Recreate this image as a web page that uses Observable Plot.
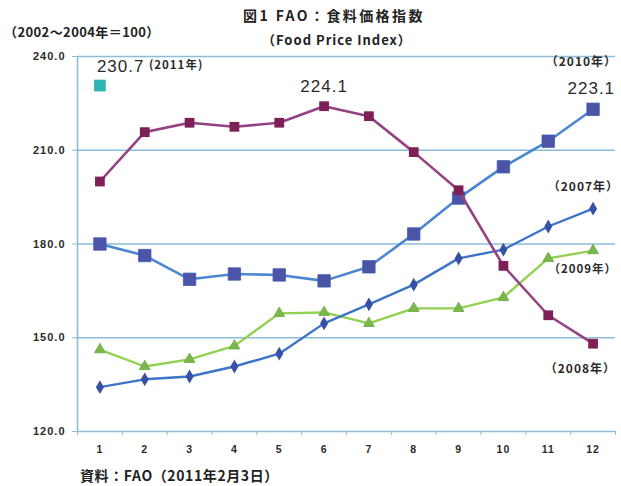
<!DOCTYPE html>
<html>
<head>
<meta charset="utf-8">
<script src="https://cdn.jsdelivr.net/npm/d3@7"></script>
<script src="https://cdn.jsdelivr.net/npm/@observablehq/plot@0.6"></script>
<style>
  body { margin: 0; background: #fff; }
  #wrap { position: relative; width: 621px; height: 486px; overflow: hidden; background: #fff;
          font-family: "Noto Sans CJK JP", "Liberation Sans", sans-serif; color: #222; }
  #chart { position: absolute; left: 0; top: 0; }
  .lbl { position: absolute; white-space: nowrap; font-weight: bold; }
  #title { left: 243px; top: 5px; font-size: 14px; letter-spacing: 2.4px; }
  #subtitle { left: 262px; top: 30px; font-size: 13px; letter-spacing: 1px; }
  #unit { left: 4px; top: 22px; font-size: 13px; letter-spacing: 0.4px; }
  #source { left: 80px; top: 465px; font-size: 14px; letter-spacing: 0.6px; }
</style>
</head>
<body>
<div id="wrap">
  <div id="chart"></div>
  <div class="lbl" id="title">図1 FAO：食料価格指数</div>
  <div class="lbl" id="subtitle">（Food Price Index）</div>
  <div class="lbl" id="unit">（2002～2004年＝100）</div>
  <div class="lbl" id="source">資料：FAO（2011年2月3日）</div>
</div>
<script>
// FAO Food Price Index by month (2002-2004 = 100)
const months = [1, 2, 3, 4, 5, 6, 7, 8, 9, 10, 11, 12];
const yTicks = [120, 150, 180, 210, 240];

const idx2007 = [134.2, 136.7, 137.6, 140.8, 144.9, 154.6, 160.7, 167.0, 175.4, 178.2, 185.6, 191.3];
const idx2008 = [200.0, 215.8, 218.8, 217.5, 218.8, 224.1, 220.9, 209.4, 197.2, 173.0, 157.2, 148.1];
const idx2009 = [146.2, 140.8, 143.1, 147.4, 157.8, 158.1, 154.6, 159.4, 159.4, 162.9, 175.4, 177.9];
const idx2010 = [180.0, 176.3, 168.7, 170.4, 170.1, 168.2, 172.7, 183.2, 194.7, 204.7, 212.9, 223.1];
const idx2011 = [230.7];

const seriesNames = ["2007年", "2008年", "2009年", "2010年", "2011年"];

const rows = (vals) => vals.map((v, i) => ({month: months[i], value: v}));
const s2007 = rows(idx2007), s2008 = rows(idx2008), s2009 = rows(idx2009), s2010 = rows(idx2010), s2011 = rows(idx2011);

// category boundaries for the small ticks between months
const bounds = [months[0] - 0.5, ...months.map(m => m + 0.5)];

const gridColor = "#8dbdd6";
const ink = "#2a2a2a";
const jp = "Noto Sans CJK JP";
const num = "Liberation Sans";
const last = months.length - 1;
const peak2008 = s2008.reduce((a, b) => (b.value > a.value ? b : a));

const chart = Plot.plot({
  width: 621,
  height: 462,
  marginTop: 56,
  marginBottom: 31,
  marginLeft: 77,
  marginRight: 6,
  style: {background: "transparent", overflow: "visible", letterSpacing: "1px"},
  x: {domain: [bounds[0], bounds[bounds.length - 1]]},
  y: {domain: [yTicks[0], yTicks[yTicks.length - 1]]},
  marks: [
    Plot.ruleY(yTicks, {stroke: gridColor, strokeWidth: 1.6}),
    Plot.ruleX([bounds[0]], {stroke: gridColor, strokeWidth: 1.6}),
    Plot.axisY({ticks: yTicks, tickFormat: () => "", tickSize: 5, stroke: gridColor, label: null}),
    Plot.text(yTicks, {x: bounds[0], y: d => d, text: d => d.toFixed(1), textAnchor: "end", dx: -12,
                       fontSize: 11, fontWeight: "bold", fill: ink, fontFamily: num}),
    Plot.text(months, {x: d => d, y: yTicks[0], text: d => String(d), dy: 18,
                       fontSize: 10.5, fontWeight: "bold", fill: ink, fontFamily: num}),
    Plot.axisX({ticks: bounds, tickSize: 4, tickFormat: () => "", stroke: gridColor, label: null}),

    // 2009
    Plot.line(s2009, {x: "month", y: "value", stroke: "#92d050", strokeWidth: 2.4}),
    Plot.dot(s2009, {x: "month", y: "value", symbol: "triangle", r: 4, fill: "#7bb84c", stroke: "#6aa83f", strokeWidth: 0.8}),
    // 2007
    Plot.line(s2007, {x: "month", y: "value", stroke: "#3d74c8", strokeWidth: 2.4}),
    Plot.dot(s2007, {x: "month", y: "value", symbol: "diamond", r: 4.2, fill: "#3550a6"}),
    // 2010
    Plot.line(s2010, {x: "month", y: "value", stroke: "#4a87d2", strokeWidth: 2.6}),
    Plot.dot(s2010, {x: "month", y: "value", symbol: "square", r: 7, fill: "#4b54a6", stroke: "#3e5cb0", strokeWidth: 0.8}),
    // 2008
    Plot.line(s2008, {x: "month", y: "value", stroke: "#954282", strokeWidth: 2.6}),
    Plot.dot(s2008, {x: "month", y: "value", symbol: "square", r: 5.5, fill: "#7e1f55"}),
    // 2011
    Plot.dot(s2011, {x: "month", y: "value", symbol: "square", r: 6.6, fill: "#2fb5b3"}),

    // value labels
    Plot.text(s2011, {x: "month", y: "value", text: d => d.value.toFixed(1), textAnchor: "start",
                      dx: -3, dy: -19, fontSize: 17, fill: ink, fontFamily: num}),
    Plot.text(s2011, {x: "month", y: "value", text: () => "(" + seriesNames[4] + ")", textAnchor: "start",
                      dx: 49, dy: -20, fontSize: 11.5, fontWeight: "bold", fill: ink, fontFamily: jp}),
    Plot.text([peak2008], {x: "month", y: "value", text: d => d.value.toFixed(1),
                           dy: -20, fontSize: 17, fill: ink, fontFamily: num}),
    Plot.text([s2010[last]], {x: "month", y: "value", text: d => d.value.toFixed(1), textAnchor: "end",
                              dx: 22, dy: -21, fontSize: 17, fill: ink, fontFamily: num}),

    // series labels
    Plot.text([s2010[last]], {x: "month", y: "value", text: () => "（" + seriesNames[3] + "）", textAnchor: "end",
                              dx: 24, dy: -47, fontSize: 12, fontWeight: "bold", fill: ink, fontFamily: jp}),
    Plot.text([s2007[last]], {x: "month", y: "value", text: () => "（" + seriesNames[0] + "）", textAnchor: "end",
                              dx: 26, dy: -22, fontSize: 12, fontWeight: "bold", fill: ink, fontFamily: jp}),
    Plot.text([s2009[last]], {x: "month", y: "value", text: () => "（" + seriesNames[2] + "）", textAnchor: "end",
                              dx: 24, dy: 19, fontSize: 11.5, fontWeight: "bold", fill: ink, fontFamily: jp}),
    Plot.text([s2008[last]], {x: "month", y: "value", text: () => "（" + seriesNames[1] + "）", textAnchor: "end",
                              dx: 23, dy: 25, fontSize: 12, fontWeight: "bold", fill: ink, fontFamily: jp})
  ]
});

document.getElementById("chart").appendChild(chart);
</script>
</body>
</html>
